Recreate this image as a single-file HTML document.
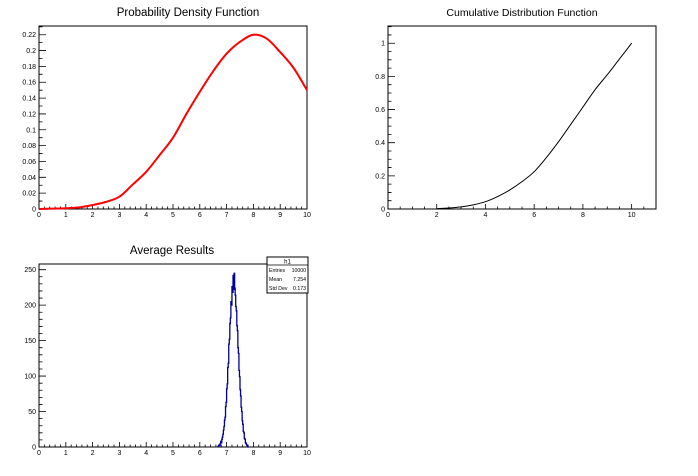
<!DOCTYPE html>
<html><head><meta charset="utf-8"><style>
html,body{margin:0;padding:0;background:#fff;}
svg{display:block;font-family:"Liberation Sans",sans-serif;}
</style></head><body>
<svg id="c" width="698" height="476" viewBox="0 0 698 476" xmlns="http://www.w3.org/2000/svg">
<rect width="698" height="476" fill="#fff"/>
<text x="188" y="16" font-size="11.5" text-anchor="middle">Probability Density Function</text>
<text x="522" y="16" font-size="10.5" text-anchor="middle">Cumulative Distribution Function</text>
<text x="172" y="254" font-size="11.5" text-anchor="middle">Average Results</text>
</svg>
<script>
// PDF data
const pdfX=[0,0.5,1,1.5,2,2.5,3,3.5,4,4.5,5,5.5,6,6.5,7,7.5,8,8.5,9,9.5,10];
const pdfY=[0,0.0005,0.001,0.002,0.005,0.009,0.0155,0.031,0.047,0.068,0.09,0.12,0.148,0.174,0.196,0.211,0.22,0.215,0.198,0.178,0.15];
// CDF data
const cdfX=[2,2.5,3,3.5,4,4.5,5,5.5,6,6.5,7,7.5,8,8.5,9,9.5,10];
const cdfY=[0.002,0.006,0.013,0.025,0.044,0.075,0.115,0.165,0.225,0.31,0.406,0.51,0.615,0.72,0.81,0.905,1.0];
// Histogram (bin lower edges, width 0.02)
const histEdges=[6.68,6.70,6.72,6.74,6.76,6.78,6.80,6.82,6.84,6.86,6.88,6.90,6.92,6.94,6.96,6.98,7.00,7.02,7.04,7.06,7.08,7.10,7.12,7.14,7.16,7.18,7.20,7.22,7.24,7.26,7.28,7.30,7.32,7.34,7.36,7.38,7.40,7.42,7.44,7.46,7.48,7.50,7.52,7.54,7.56,7.58,7.60,7.62,7.64,7.66,7.68,7.70,7.72,7.74,7.76,7.78,7.80];
const histCounts=[1,2,3,2,5,8,6,11,14,18,24,29,38,42,57,63,82,89,112,118,145,152,174,182,205,200,226,218,242,222,245,224,214,198,192,171,164,140,132,108,99,81,72,56,50,37,32,22,20,12,11,6,5,3,2,1,0];
const pdfYTicks=[0,0.02,0.04,0.06,0.08,0.1,0.12,0.14,0.16,0.18,0.2,0.22];
const cdfYTicks=[0,0.2,0.4,0.6,0.8,1];
const cdfXTicks=[0,2,4,6,8,10];
const histYTicks=[0,50,100,150,200,250];
const xTicks10=[0,1,2,3,4,5,6,7,8,9,10];

const svg=document.getElementById('c');
const NS='http://www.w3.org/2000/svg';
function mk(tag,attrs,parent){const e=document.createElementNS(NS,tag);for(const k in attrs)e.setAttribute(k,attrs[k]);(parent||svg).appendChild(e);return e;}

function smooth(pts){
  let d=`M${pts[0][0]},${pts[0][1]}`;
  for(let i=0;i<pts.length-1;i++){
    const p0=pts[Math.max(0,i-1)],p1=pts[i],p2=pts[i+1],p3=pts[Math.min(pts.length-1,i+2)];
    const c1x=p1[0]+(p2[0]-p0[0])/6,c1y=p1[1]+(p2[1]-p0[1])/6;
    const c2x=p2[0]-(p3[0]-p1[0])/6,c2y=p2[1]-(p3[1]-p1[1])/6;
    d+=`C${c1x},${c1y} ${c2x},${c2y} ${p2[0]},${p2[1]}`;
  }
  return d;
}

function axes(name,L,R,T,B,x0,x1,y0,y1,xt,xMinor,yt,yMinor,fmtY){
  const sx=v=>L+(v-x0)/(x1-x0)*(R-L);
  const sy=v=>B-(v-y0)/(y1-y0)*(B-T);
  const g=mk('g',{});
  
  
  mk('rect',{x:L,y:T,width:R-L,height:B-T,fill:'none',stroke:'#000','stroke-width':1},g);
  let d='';
  for(let v=x0;v<=x1+1e-9;v+=xMinor){const X=sx(v);const maj=xt.some(t=>Math.abs(t-v)<1e-6);d+=`M${X},${B}V${B-(maj?5:2.5)}`;}
  for(let v=y0;v<=y1+1e-9;v+=yMinor){const Y=sy(v);const maj=yt.some(t=>Math.abs(t-v)<1e-6);d+=`M${L},${Y}H${L+(maj?7:3.5)}`;}
  mk('path',{d:d,stroke:'#000','stroke-width':0.8,fill:'none'},g);
  xt.forEach(t=>{const tx=mk('text',{x:sx(t),y:B+8,'font-size':7,'text-anchor':'middle'},g);tx.textContent=String(t);
    
    });
  yt.forEach(t=>{const tx=mk('text',{x:L-3,y:sy(t)+2.5,'font-size':7,'text-anchor':'end'},g);tx.textContent=fmtY(t);
    
    });
  return {sx,sy};
}
const fmt=t=>String(+t.toFixed(2));

// PDF pad
let a=axes('pdf',39,307,26,209,0,10,0,0.231,xTicks10,0.2,pdfYTicks,0.01,fmt);
let pl=mk('path',{d:smooth(pdfX.map((x,i)=>[a.sx(x),a.sy(pdfY[i])])),fill:'none',stroke:'#f00','stroke-width':2});



// CDF pad
a=axes('cdf',388,656,26,209,0,11,0,1.104,cdfXTicks,0.5,cdfYTicks,0.05,fmt);
pl=mk('path',{d:smooth(cdfX.map((x,i)=>[a.sx(x),a.sy(cdfY[i])])),fill:'none',stroke:'#000','stroke-width':1});



// Histogram pad
a=axes('hist',39,307,264,447,0,10,0,258,xTicks10,0.2,histYTicks,10,t=>String(t));
let d=`M${a.sx(histEdges[0])},${a.sy(0)}`;
histEdges.forEach((e,i)=>{d+=`V${a.sy(histCounts[i])}H${a.sx(e+0.02)}`;});
d+=`V${a.sy(0)}`;
pl=mk('path',{d:d,fill:'none',stroke:'#000099','stroke-width':1.3});



// Stats box
const sb=mk('g',{});


mk('rect',{x:267,y:257,width:41,height:36,fill:'#fff',stroke:'#000','stroke-width':1},sb);
mk('line',{x1:267,y1:265,x2:308,y2:265,stroke:'#000','stroke-width':0.8},sb);
let t=mk('text',{x:287.5,y:263.5,'font-size':6,'text-anchor':'middle'},sb);t.textContent='h1';
const rows=[['Entries','10000'],['Mean','7.254'],['Std Dev','0.173']];
rows.forEach((r,i)=>{const y=272+i*9;
  let a1=mk('text',{x:269,y:y,'font-size':5.2},sb);a1.textContent=r[0];
  let a2=mk('text',{x:306,y:y,'font-size':5.2,'text-anchor':'end'},sb);a2.textContent=r[1];});
</script>
</body></html>
